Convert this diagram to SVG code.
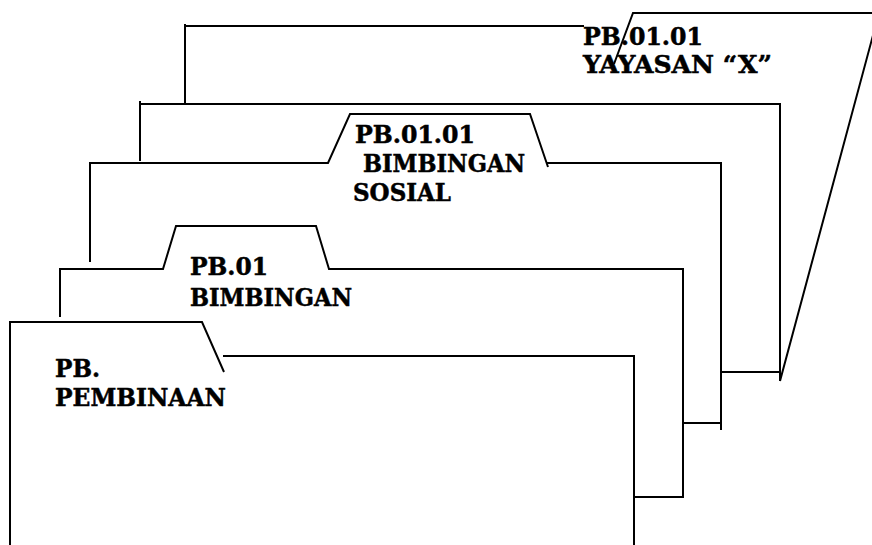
<svg xmlns="http://www.w3.org/2000/svg" width="872" height="545" viewBox="0 0 872 545">
<style>
.ln{fill:none;stroke:#000;stroke-width:2;stroke-linecap:butt;stroke-linejoin:miter}
.t{font-family:"DejaVu Serif","Liberation Serif",serif;font-weight:bold;font-size:24px;fill:#000;stroke:#000;stroke-width:0.5}
</style>
<rect width="872" height="545" fill="#fff"/>
<g id="folder-yayasan">
<path class="ln" d="M185,24 V105 M185,26 H584 M614,64 L633,13 H880 M879,13 L780,381"/>
<text class="t" x="583" y="45" textLength="120" lengthAdjust="spacingAndGlyphs">PB.01.01</text>
<text class="t" x="583" y="73" textLength="189" lengthAdjust="spacingAndGlyphs">YAYASAN “X”</text>
</g>
<g id="folder-b">
<path class="ln" d="M140,101 V161 M140,104 H781 M780,104 V381 M722,372 H780"/>
</g>
<g id="folder-sosial">
<path class="ln" d="M90,262 V163 H328 L350,114 H530 L548,167 M547,163 H722 M721,163 V430 M683,423 H722"/>
<text class="t" x="355" y="143" textLength="120" lengthAdjust="spacingAndGlyphs">PB.01.01</text>
<text class="t" x="363" y="172" textLength="162" lengthAdjust="spacingAndGlyphs">BIMBINGAN</text>
<text class="t" x="353" y="201" textLength="98" lengthAdjust="spacingAndGlyphs">SOSIAL</text>
</g>
<g id="folder-bimbingan">
<path class="ln" d="M60,317 V269 H163 L176,226 H316 L329,269 H684 M683,269 V498 M635,497 H684"/>
<text class="t" x="190" y="275" textLength="78" lengthAdjust="spacingAndGlyphs">PB.01</text>
<text class="t" x="190" y="306" textLength="162" lengthAdjust="spacingAndGlyphs">BIMBINGAN</text>
</g>
<g id="folder-pembinaan">
<path class="ln" d="M10,545 V322 H202 L224,372 M223,356 H635 M634,355 V545"/>
<text class="t" x="55" y="377" textLength="45" lengthAdjust="spacingAndGlyphs">PB.</text>
<text class="t" x="55" y="406" textLength="171" lengthAdjust="spacingAndGlyphs">PEMBINAAN</text>
</g>
<g id="connectors"/>
</svg>
